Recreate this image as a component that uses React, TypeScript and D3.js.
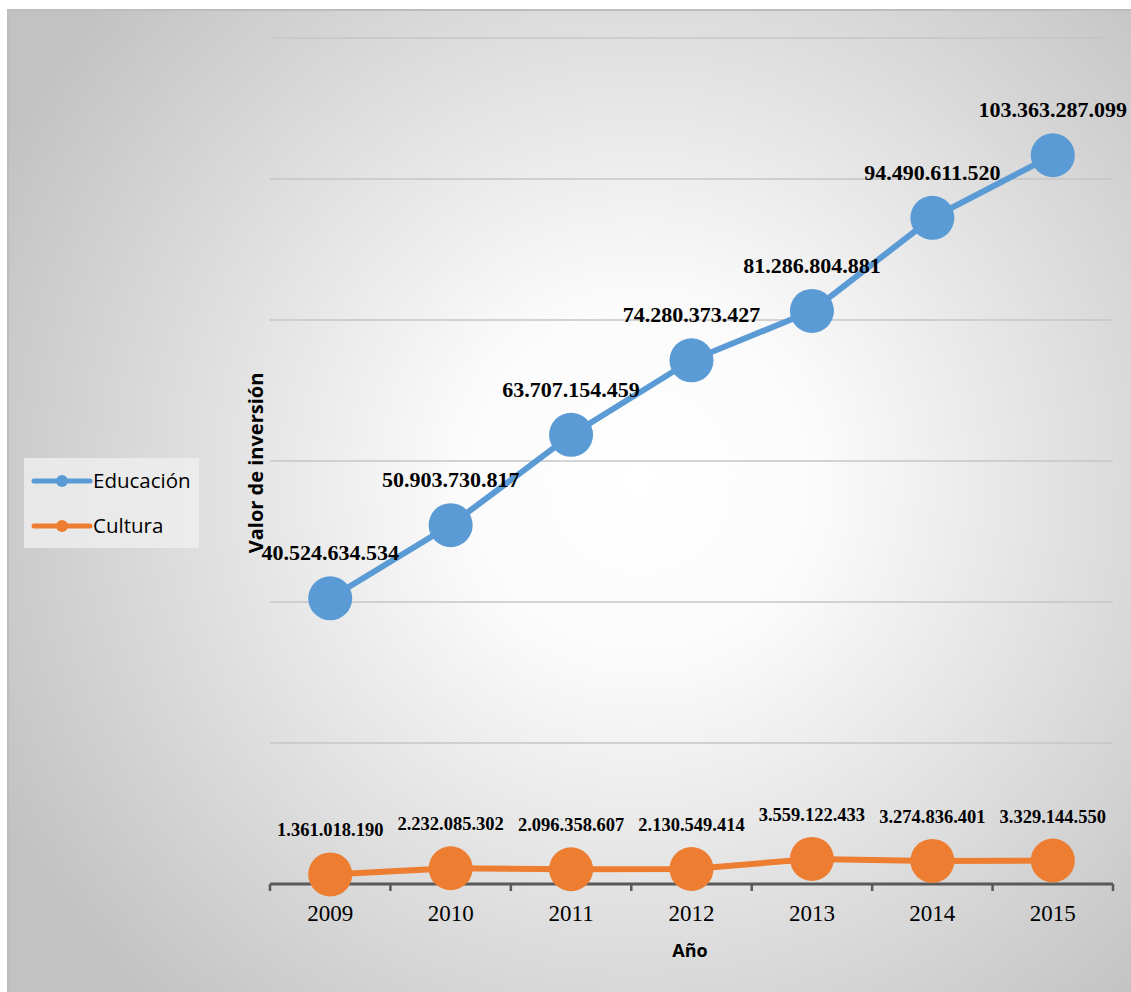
import React, { useEffect, useRef } from "react";
import * as d3 from "d3";

const years = ["2009", "2010", "2011", "2012", "2013", "2014", "2015"];
const educacion = [40524634534, 50903730817, 63707154459, 74280373427, 81286804881, 94490611520, 103363287099];
const cultura = [1361018190, 2232085302, 2096358607, 2130549414, 3559122433, 3274836401, 3329144550];
const yTicks = [0, 20e9, 40e9, 60e9, 80e9, 100e9, 120e9];

const W = 1131;
const H = 992;

const fmt = (v: number) => d3.format(",")(v).replace(/,/g, ".");

const App = () => {
  const ref = useRef<SVGSVGElement>(null);

  useEffect(() => {
    const svg = d3.select(ref.current);
    svg.selectAll("*").remove();

    const defs = svg.append("defs");
    const grad = defs.append("radialGradient")
      .attr("id", "bg")
      .attr("gradientUnits", "userSpaceOnUse")
      .attr("cx", 640).attr("cy", 480).attr("r", 720);
    grad.append("stop").attr("offset", 0).attr("stop-color", "#ffffff");
    grad.append("stop").attr("offset", 0.25).attr("stop-color", "#fbfbfb");
    grad.append("stop").attr("offset", 1).attr("stop-color", "#c2c2c2");

    // Background and frame
    svg.append("rect")
      .attr("x", 7).attr("y", 9)
      .attr("width", W - 7).attr("height", H - 9)
      .attr("fill", "url(#bg)");
    svg.append("path")
      .attr("d", `M8,${H} V10 H${W}`)
      .attr("fill", "none")
      .attr("stroke", "#bdbdbd")
      .attr("stroke-width", 2);

    const x = d3.scaleBand().domain(years).range([270, 1113]);
    const y = d3.scaleLinear().domain([0, 120e9]).range([884, 38]);
    const cx = (d: string) => (x(d) as number) + x.bandwidth() / 2;

    // Gridlines
    svg.append("g")
      .selectAll("line")
      .data(yTicks.slice(1))
      .join("line")
      .attr("x1", 270).attr("x2", 1113)
      .attr("y1", d => y(d)).attr("y2", d => y(d))
      .attr("stroke", "#c6c6c6")
      .attr("stroke-width", 1.5);

    // X axis
    const axis = svg.append("g");
    axis.append("line")
      .attr("x1", 270).attr("x2", 1113)
      .attr("y1", y(0)).attr("y2", y(0))
      .attr("stroke", "#595959").attr("stroke-width", 3);
    axis.selectAll("line.tick")
      .data([...years.map(d => x(d) as number), 1113])
      .join("line")
      .attr("class", "tick")
      .attr("x1", d => d).attr("x2", d => d)
      .attr("y1", y(0)).attr("y2", y(0) + 7)
      .attr("stroke", "#595959").attr("stroke-width", 2.5);
    axis.selectAll("text")
      .data(years)
      .join("text")
      .attr("x", d => cx(d))
      .attr("y", 921)
      .attr("text-anchor", "middle")
      .attr("font-family", "'Liberation Serif', 'Times New Roman', serif")
      .attr("font-size", 23)
      .attr("fill", "#000")
      .text(d => d);

    // Axis titles
    svg.append("text")
      .attr("x", 690).attr("y", 957)
      .attr("text-anchor", "middle")
      .attr("font-family", "'Open Sans', 'Liberation Sans', sans-serif")
      .attr("font-weight", "bold")
      .attr("font-size", 18)
      .text("Año");
    svg.append("text")
      .attr("transform", "translate(263,463) rotate(-90)")
      .attr("text-anchor", "middle")
      .attr("font-family", "'Open Sans', 'Liberation Sans', sans-serif")
      .attr("font-weight", "bold")
      .attr("font-size", 20)
      .text("Valor de inversión");

    const series = [
      { name: "Educación", values: educacion, color: "#5b9bd5", labelSize: 22 },
      { name: "Cultura", values: cultura, color: "#ed7d31", labelSize: 18.5 },
    ];

    const line = d3.line<number>()
      .x((_, i) => cx(years[i]))
      .y(d => y(d));

    series.forEach(s => {
      const g = svg.append("g");
      g.append("path")
        .attr("d", line(s.values))
        .attr("fill", "none")
        .attr("stroke", s.color)
        .attr("stroke-width", 6);
      g.selectAll("circle")
        .data(s.values)
        .join("circle")
        .attr("cx", (_, i) => cx(years[i]))
        .attr("cy", d => y(d))
        .attr("r", 22)
        .attr("fill", s.color);
      g.selectAll("text")
        .data(s.values)
        .join("text")
        .attr("x", (_, i) => cx(years[i]))
        .attr("y", d => y(d) - 38)
        .attr("text-anchor", "middle")
        .attr("font-family", "'Liberation Serif', 'Times New Roman', serif")
        .attr("font-weight", "bold")
        .attr("font-size", s.labelSize)
        .attr("fill", "#000")
        .text(d => fmt(d));
    });

    // Legend
    const lg = svg.append("g");
    lg.append("rect")
      .attr("x", 24).attr("y", 458)
      .attr("width", 175).attr("height", 90)
      .attr("fill", "#efefef").attr("fill-opacity", 0.8);
    series.forEach((s, i) => {
      const ly = 481 + i * 45;
      lg.append("line")
        .attr("x1", 34).attr("x2", 90)
        .attr("y1", ly).attr("y2", ly)
        .attr("stroke", s.color).attr("stroke-width", 5)
        .attr("stroke-linecap", "round");
      lg.append("circle")
        .attr("cx", 62).attr("cy", ly).attr("r", 6)
        .attr("fill", s.color);
      lg.append("text")
        .attr("x", 93).attr("y", ly + 7)
        .attr("font-family", "'Open Sans', 'Liberation Sans', sans-serif")
        .attr("font-size", 20.5)
        .attr("fill", "#000")
        .text(s.name);
    });
  }, []);

  return (
    <svg
      ref={ref}
      width={W}
      height={H}
      style={{ position: "absolute", left: 0, top: 0, display: "block" }}
    />
  );
};

export default App;
